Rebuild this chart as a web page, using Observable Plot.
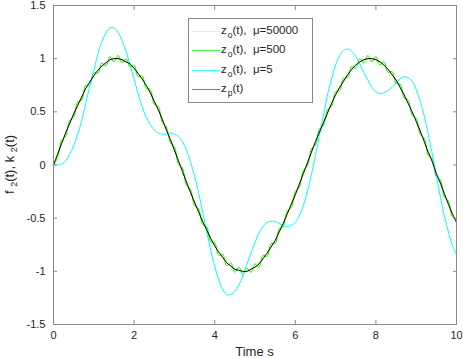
<!DOCTYPE html>
<html>
<head>
<meta charset="utf-8">
<script src="https://cdn.jsdelivr.net/npm/d3@7"></script>
<script src="https://cdn.jsdelivr.net/npm/@observablehq/plot@0.6"></script>
<style>
  html, body { margin: 0; padding: 0; background: #fff; }
  #wrap { position: relative; width: 463px; height: 359px; font-family: "Liberation Sans", Arial, Helvetica, sans-serif; color: #262626; }
  #legend { position: absolute; left: 188px; top: 18px; width: 125px; height: 85px; box-sizing: border-box; border: 1px solid #888; background: #fff; }
  .row { position: absolute; left: 0; width: 100%; height: 0; }
  .swatch { position: absolute; left: 3px; width: 28px; height: 1px; top: 0; }
  .lab { position: absolute; left: 32px; top: -7px; font-size: 11.5px; line-height: 12px; white-space: pre; }
  .lab sub { font-size: 8.5px; vertical-align: -4px; line-height: 0; margin-left: 1px; }
</style>
</head>
<body>
<div id="wrap"></div>
<script>
// ---- data ----
const xTicks = [0, 2, 4, 6, 8, 10];
const xTickLabels = ["0", "2", "4", "6", "8", "10"];
const yTicks = [-1.5, -1, -0.5, 0, 0.5, 1, 1.5];
const yTickLabels = ["-1.5", "-1", "-0.5", "0", "0.5", "1", "1.5"];

const seriesNames = ["z_o(t),  μ=50000", "z_o(t),  μ=500", "z_o(t),  μ=5", "z_p(t)"];
const seriesColors = ["#ffff00", "#00ff00", "#00ffff", "#000000"];
const legendSwatchColors = ["#ffff40", "#40ff40", "#40ffff", "#808080"];

const tGrid = [
  0.0, 0.1, 0.2, 0.3, 0.4, 0.5, 0.6, 0.7, 0.8, 0.9,
  1.0, 1.1, 1.2, 1.3, 1.4, 1.5, 1.6, 1.7, 1.8, 1.9,
  2.0, 2.1, 2.2, 2.3, 2.4, 2.5, 2.6, 2.7, 2.8, 2.9,
  3.0, 3.1, 3.2, 3.3, 3.4, 3.5, 3.6, 3.7, 3.8, 3.9,
  4.0, 4.1, 4.2, 4.3, 4.4, 4.5, 4.6, 4.7, 4.8, 4.9,
  5.0, 5.1, 5.2, 5.3, 5.4, 5.5, 5.6, 5.7, 5.8, 5.9,
  6.0, 6.1, 6.2, 6.3, 6.4, 6.5, 6.6, 6.7, 6.8, 6.9,
  7.0, 7.1, 7.2, 7.3, 7.4, 7.5, 7.6, 7.7, 7.8, 7.9,
  8.0, 8.1, 8.2, 8.3, 8.4, 8.5, 8.6, 8.7, 8.8, 8.9,
  9.0, 9.1, 9.2, 9.3, 9.4, 9.5, 9.6, 9.7, 9.8, 9.9,
  10.0
];

// z_p(t) (black)
const zp = [
  0.00, 0.10, 0.20, 0.30, 0.39, 0.48, 0.56, 0.64, 0.72, 0.78,
  0.84, 0.89, 0.93, 0.96, 0.99, 1.00, 1.00, 0.99, 0.97, 0.95,
  0.91, 0.86, 0.81, 0.75, 0.68, 0.60, 0.52, 0.43, 0.33, 0.24,
  0.14, 0.04, -0.06, -0.16, -0.26, -0.35, -0.44, -0.53, -0.61, -0.69,
  -0.76, -0.82, -0.87, -0.92, -0.95, -0.98, -0.99, -1.00, -1.00, -0.98,
  -0.96, -0.93, -0.88, -0.83, -0.77, -0.71, -0.63, -0.55, -0.46, -0.37,
  -0.28, -0.18, -0.08, 0.02, 0.12, 0.22, 0.31, 0.40, 0.49, 0.58,
  0.66, 0.73, 0.79, 0.85, 0.90, 0.94, 0.97, 0.99, 1.00, 1.00,
  0.99, 0.97, 0.94, 0.90, 0.85, 0.80, 0.73, 0.66, 0.58, 0.50,
  0.41, 0.32, 0.22, 0.12, 0.03, -0.08, -0.17, -0.27, -0.37, -0.46,
  -0.54
];

// z_o(t), mu = 50000 (yellow, hidden under z_p)
const zo50000 = [
  0.00, 0.10, 0.20, 0.30, 0.39, 0.48, 0.56, 0.64, 0.72, 0.78,
  0.84, 0.89, 0.93, 0.96, 0.99, 1.00, 1.00, 0.99, 0.97, 0.95,
  0.91, 0.86, 0.81, 0.75, 0.68, 0.60, 0.52, 0.43, 0.33, 0.24,
  0.14, 0.04, -0.06, -0.16, -0.26, -0.35, -0.44, -0.53, -0.61, -0.69,
  -0.76, -0.82, -0.87, -0.92, -0.95, -0.98, -0.99, -1.00, -1.00, -0.98,
  -0.96, -0.93, -0.88, -0.83, -0.77, -0.71, -0.63, -0.55, -0.46, -0.37,
  -0.28, -0.18, -0.08, 0.02, 0.12, 0.22, 0.31, 0.40, 0.49, 0.58,
  0.66, 0.73, 0.79, 0.85, 0.90, 0.94, 0.97, 0.99, 1.00, 1.00,
  0.99, 0.97, 0.94, 0.90, 0.85, 0.80, 0.73, 0.66, 0.58, 0.50,
  0.41, 0.32, 0.22, 0.12, 0.03, -0.08, -0.17, -0.27, -0.37, -0.46,
  -0.54
];

// z_o(t), mu = 500 (green, small fast ripple)
const zo500 = [
  0.00, 0.07, 0.23, 0.27, 0.42, 0.45, 0.59, 0.61, 0.75, 0.75,
  0.87, 0.86, 0.96, 0.93, 1.02, 0.97, 1.03, 0.96, 1.00, 0.92,
  0.94, 0.83, 0.84, 0.72, 0.71, 0.57, 0.55, 0.40, 0.36, 0.21,
  0.17, 0.01, -0.03, -0.19, -0.23, -0.38, -0.41, -0.56, -0.58, -0.72,
  -0.73, -0.85, -0.84, -0.95, -0.92, -1.01, -0.96, -1.03, -0.97, -1.01,
  -0.93, -0.96, -0.85, -0.86, -0.74, -0.74, -0.60, -0.58, -0.43, -0.40,
  -0.25, -0.21, -0.05, -0.01, 0.15, 0.19, 0.34, 0.37, 0.52, 0.55,
  0.69, 0.70, 0.82, 0.82, 0.93, 0.91, 1.00, 0.96, 1.03, 0.97,
  1.02, 0.94, 0.97, 0.87, 0.88, 0.77, 0.76, 0.63, 0.61, 0.47,
  0.44, 0.29, 0.25, 0.09, 0.06, -0.11, -0.14, -0.30, -0.34, -0.49,
  -0.51
];

// z_o(t), mu = 5 (cyan)
const zo5 = [
  0.00, 0.00, 0.01, 0.04, 0.10, 0.18, 0.29, 0.42, 0.58, 0.74,
  0.89, 1.04, 1.16, 1.24, 1.29, 1.29, 1.25, 1.17, 1.07, 0.94,
  0.81, 0.67, 0.55, 0.45, 0.38, 0.33, 0.30, 0.29, 0.29, 0.30,
  0.29, 0.27, 0.22, 0.14, 0.03, -0.10, -0.26, -0.44, -0.62, -0.80,
  -0.95, -1.08, -1.17, -1.22, -1.22, -1.19, -1.13, -1.04, -0.93, -0.83,
  -0.73, -0.64, -0.58, -0.54, -0.53, -0.53, -0.55, -0.57, -0.58, -0.57,
  -0.54, -0.48, -0.38, -0.25, -0.09, 0.09, 0.28, 0.47, 0.66, 0.81,
  0.94, 1.03, 1.08, 1.09, 1.07, 1.02, 0.95, 0.87, 0.80, 0.73,
  0.69, 0.67, 0.68, 0.70, 0.73, 0.77, 0.81, 0.83, 0.82, 0.79,
  0.71, 0.60, 0.46, 0.29, 0.10, -0.10, -0.30, -0.48, -0.63, -0.76,
  -0.84
];

const xLabel = "Time s";
// ---- end of data ----

const rows = vals => tGrid.map((t, i) => ({t, v: vals[i]}));
const seriesVals = [zo50000, zo500, zo5, zp];

const font = "'Liberation Sans', Arial, Helvetica, sans-serif";
const tickColor = "#8a8a8a";

const plot = Plot.plot({
  width: 463,
  height: 359,
  marginTop: 5,
  marginRight: 7,
  marginBottom: 35,
  marginLeft: 53,
  x: {domain: [0, 10]},
  y: {domain: [-1.5, 1.5]},
  style: {fontFamily: font, fontSize: "11px", color: "#262626", background: "white", overflow: "visible"},
  marks: [
    ...seriesVals.map((vals, i) => Plot.line(rows(vals), {
      x: "t", y: "v", stroke: seriesColors[i], strokeWidth: 1, curve: "catmull-rom"
    })),
    Plot.frame({stroke: tickColor}),
    Plot.axisX({anchor: "bottom", ticks: xTicks, tickSize: -4, tickPadding: 11, stroke: tickColor,
      tickFormat: d => xTickLabels[xTicks.indexOf(d)], label: null}),
    Plot.axisX({anchor: "top", ticks: xTicks, tickSize: -4, stroke: tickColor, tickFormat: () => "", label: null}),
    Plot.axisY({anchor: "left", ticks: yTicks, tickSize: -4, tickPadding: 12, stroke: tickColor,
      tickFormat: d => yTickLabels[yTicks.indexOf(d)], label: null}),
    Plot.axisY({anchor: "right", ticks: yTicks, tickSize: -4, stroke: tickColor, tickFormat: () => "", label: null})
  ]
});

const wrap = document.getElementById("wrap");
wrap.appendChild(plot);

// axis labels as real text
const svg = d3.select(plot);
const xs = plot.scale("x"), ys = plot.scale("y");
const xMid = (xs.range[0] + xs.range[1]) / 2;
const yMid = (ys.range[0] + ys.range[1]) / 2;

svg.append("text")
  .attr("x", xMid).attr("y", 356)
  .attr("text-anchor", "middle")
  .attr("font-family", font).attr("font-size", 13).attr("fill", "#262626")
  .text(xLabel);

const yl = svg.append("text")
  .attr("transform", `translate(14,${yMid}) rotate(-90)`)
  .attr("text-anchor", "middle")
  .attr("font-family", font).attr("font-size", 13).attr("fill", "#262626");
yl.append("tspan").text("f ");
yl.append("tspan").attr("dy", 3).attr("font-size", 9).text("2");
yl.append("tspan").attr("dy", -3).text("(t), k ");
yl.append("tspan").attr("dy", 3).attr("font-size", 9).text("2");
yl.append("tspan").attr("dy", -3).text("(t)");

// legend (inside the axes, as in the reference)
const legend = document.createElement("div");
legend.id = "legend";
const rowTops = [12, 31, 51, 70];
seriesNames.forEach((name, i) => {
  const r = document.createElement("div");
  r.className = "row";
  r.style.top = rowTops[i] + "px";
  const sw = document.createElement("div");
  sw.className = "swatch";
  sw.style.background = legendSwatchColors[i];
  r.appendChild(sw);
  const lab = document.createElement("div");
  lab.className = "lab";
  const m = name.match(/^(\w)_(\w)(.*)$/);
  lab.appendChild(document.createTextNode(m[1]));
  const sub = document.createElement("sub");
  sub.textContent = m[2];
  lab.appendChild(sub);
  lab.appendChild(document.createTextNode(m[3]));
  r.appendChild(lab);
  legend.appendChild(r);
});
wrap.appendChild(legend);
</script>
</body>
</html>
